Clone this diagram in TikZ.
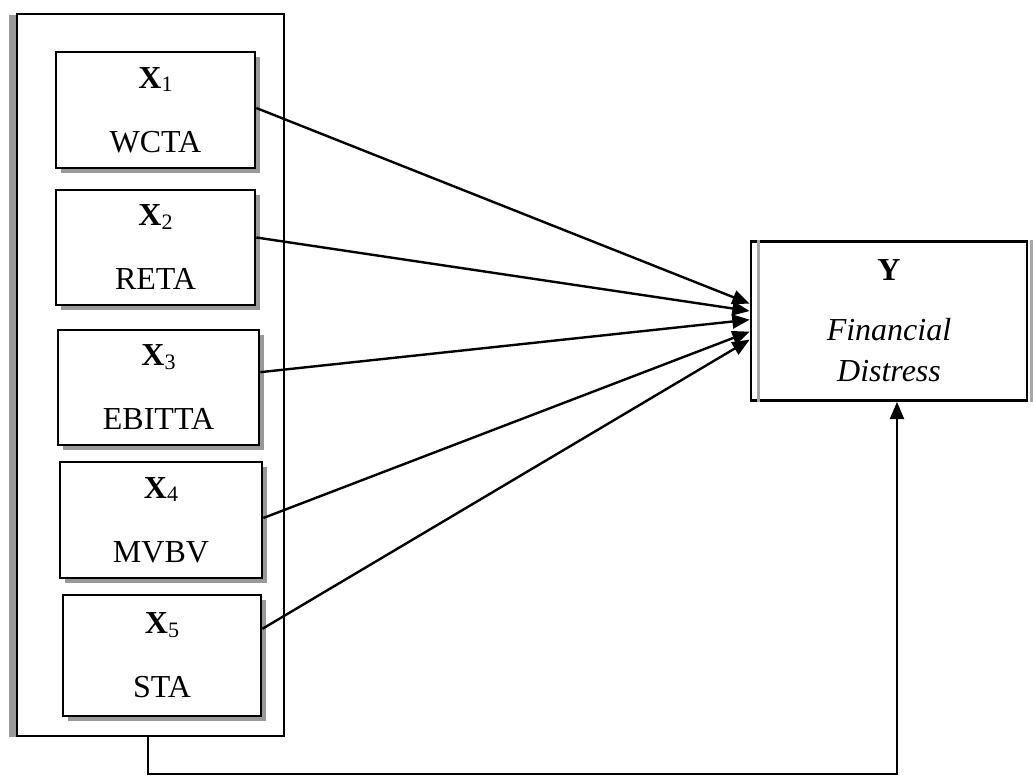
\documentclass[tikz,border=0pt]{standalone}
\usepackage{fontspec}
\setmainfont{Liberation Serif}
\usetikzlibrary{arrows.meta,shadows}

\newcommand{\varlab}[1]{\textbf{X}\raisebox{-2.5pt}{\fontsize{16.5}{16.5}\selectfont #1}}

\begin{document}
\begin{tikzpicture}[x=0.75pt, y=-0.75pt, line cap=butt, line join=miter,
		varbox/.style={draw, line width=2pt, fill=white, align=center,
			inner sep=0pt, font=\fontsize{24}{28}\selectfont,
			drop shadow={shadow xshift=4pt, shadow yshift=-4pt, fill=black!40, opacity=1}},
		framebox/.style={draw, line width=2pt, fill=white, inner sep=0pt,
			drop shadow={shadow xshift=-6pt, shadow yshift=-1pt, fill=black!40, opacity=1}},
		link/.style={line width=1.8pt, -{Triangle[length=13pt,width=10.5pt]}}]
	\useasboundingbox (0,0) rectangle (1033,777);
	% outer frame
	\node[framebox, minimum width=200.25pt, minimum height=541.5pt] (frame) at (150.5,375) {};
	% independent variables
	\node[varbox, minimum width=149.25pt, minimum height=87pt] (X1) at (155.5,110) {\varlab{1}\\[20pt]WCTA};
	\node[varbox, minimum width=149.25pt, minimum height=86.25pt] (X2) at (155.5,247.5) {\varlab{2}\\[20pt]RETA};
	\node[varbox, minimum width=150.75pt, minimum height=86.25pt] (X3) at (158.5,387.5) {\varlab{3}\\[20pt]EBITTA};
	\node[varbox, minimum width=151.5pt, minimum height=87pt] (X4) at (161,520) {\varlab{4}\\[20pt]MVBV};
	\node[varbox, minimum width=148.5pt, minimum height=90.75pt] (X5) at (162,655.5) {\varlab{5}\\[20pt]STA};
	% dependent variable
	\node[draw, line width=2pt, align=center, inner sep=0pt, minimum width=207pt, minimum height=119.25pt,
		font=\fontsize{24}{31}\selectfont] (Y) at (889,321) {\textbf{Y}\\[14pt]\textit{Financial}\\\textit{Distress}};
	\draw[black!35, line width=1.8pt] ([xshift=6.5pt]Y.north west) -- ([xshift=6.5pt]Y.south west);
	\draw[black!35, line width=1.8pt] ([xshift=2.5pt]Y.north east) -- ([xshift=2.5pt]Y.south east);
	% arrows
	\draw[link] ([yshift=1.5pt]X1.east) -- ([yshift=13pt]Y.west);
	\draw[link] ([yshift=7.5pt]X2.east) -- ([yshift=7.5pt]Y.west);
	\draw[link] ([yshift=11.5pt]X3.east) -- ([yshift=1pt]Y.west);
	\draw[link] ([yshift=1.5pt]X4.east) -- ([yshift=-8pt]Y.west);
	\draw[link] ([yshift=20pt]X5.east) -- ([yshift=-14pt]Y.west);
	% feedback line
	\coordinate (fb1) at (148,774);
	\coordinate (fb2) at (897,774);
	\draw[link] (frame.south -| fb1) -- (fb1) -- (fb2) -- (Y.south -| fb2);
\end{tikzpicture}
\end{document}
